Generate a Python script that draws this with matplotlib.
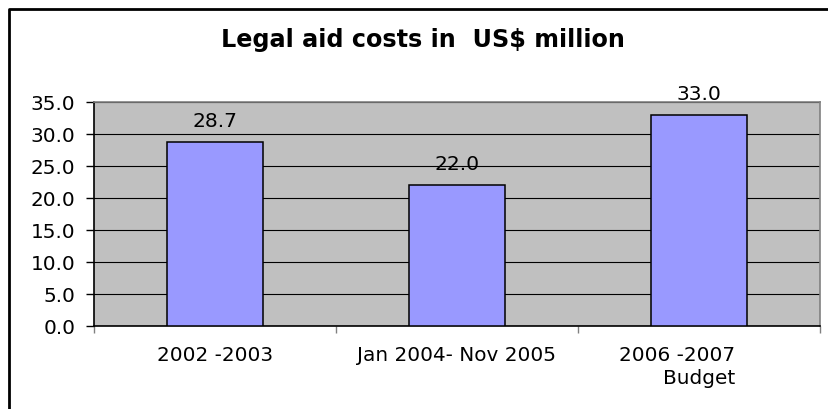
import matplotlib
matplotlib.use("Agg")
import matplotlib.pyplot as plt
import matplotlib.transforms as mtransforms
from matplotlib.lines import Line2D

categories = ["2002 -2003", "Jan 2004- Nov 2005", "2006 -2007\nBudget"]
values = [28.7, 22.0, 33.0]
yticks = [0, 5, 10, 15, 20, 25, 30, 35]
title = "Legal aid costs in  US$ million"

plt.rcParams['font.family'] = ['DejaVu Sans']

W, H = 829, 410
fig = plt.figure(figsize=(W / 100, H / 100), dpi=100)
fig.patch.set_facecolor("white")

ax = fig.add_axes([94 / W, (H - 327) / H, (820 - 94) / W, (327 - 103) / H])
ax.set_facecolor("#C0C0C0")

x = list(range(len(categories)))
ax.bar(x, values, width=0.4, color="#9999FF", edgecolor="black", linewidth=1.1, zorder=3)

for xi, v in zip(x, values):
    ax.annotate(f"{v:.1f}", xy=(xi, v), xytext=(0, 16), textcoords="offset pixels",
                ha="center", va="baseline", fontsize=14.6, color="black", zorder=4)

ax.set_xlim(-0.5, len(categories) - 0.5)
ax.set_ylim(0, 35)
ax.set_yticks(yticks)
ax.set_yticklabels([f"{t:.1f}" for t in yticks], fontsize=14.4)
ax.yaxis.grid(True, color="black", linewidth=0.8, zorder=0)
ax.set_axisbelow(True)
ax.tick_params(axis="y", direction="out", length=5.8, width=1, pad=7.5, color="black")

ax.set_xticks(x)
ax.set_xticklabels(categories, fontsize=14.4, multialignment="right", linespacing=1.3)
ax.tick_params(axis="x", which="major", length=0, pad=13.5)
ax.set_xticks([i - 0.5 for i in range(len(categories) + 1)], minor=True)
ax.tick_params(axis="x", which="minor", direction="out", length=5, width=1, color="#808080")

lbls = ax.get_xticklabels()
lbls[2].set_transform(lbls[2].get_transform() + mtransforms.ScaledTranslation(-22 / 100, 0, fig.dpi_scale_trans))

for s in ["left", "bottom"]:
    ax.spines[s].set_color("black")
    ax.spines[s].set_linewidth(1.2)
for s in ["top", "right"]:
    ax.spines[s].set_color("#808080")
    ax.spines[s].set_linewidth(1.2)

fig.text(423 / W, (H - 40) / H, title, ha="center", va="center", fontsize=17.2, fontweight="bold")

fig.add_artist(Line2D([9 / W, 9 / W, 1.0], [0, (H - 10) / H, (H - 10) / H],
                      transform=fig.transFigure, color="black", linewidth=2))

fig.savefig("out.png", dpi=100)
